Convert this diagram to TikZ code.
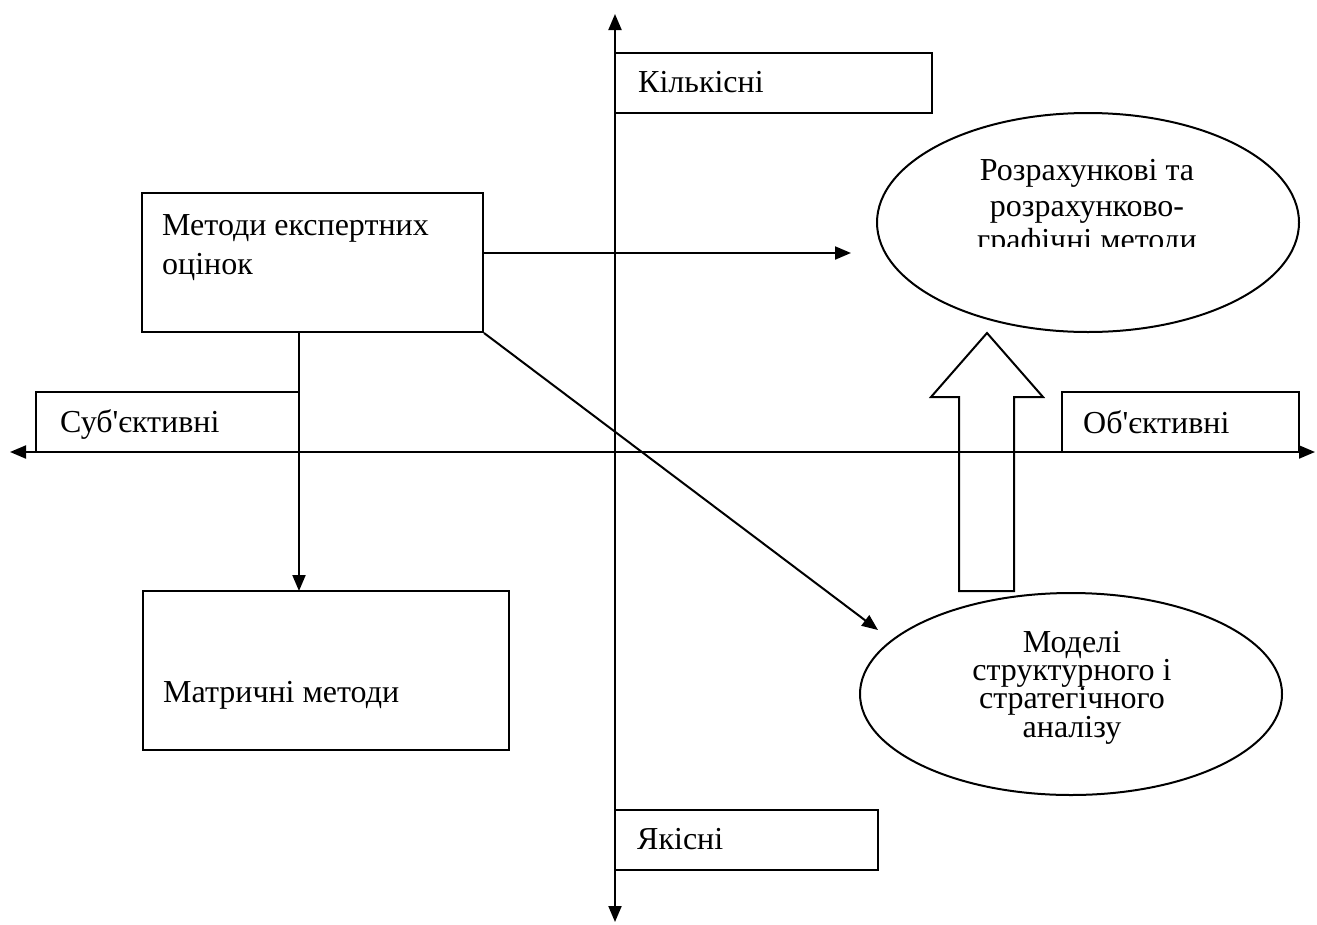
\documentclass[tikz,border=0pt]{standalone}
\usepackage{fontspec}
\setmainfont{Liberation Serif}[Ligatures=TeXOff]
\usetikzlibrary{arrows.meta,shapes.geometric}
\tikzset{
  ln/.style={line width=2pt, black},
  box/.style={draw, ln, rectangle, inner sep=0pt},
  oval/.style={draw, ln, ellipse, inner sep=0pt},
  txt/.style={inner sep=0pt, font=\fontsize{32}{37}\selectfont},
  tip/.style={-{Triangle[length=16pt,width=13pt]}},
  bothtip/.style={{Triangle[length=16pt,width=13pt]}-{Triangle[length=16pt,width=13pt]}},
}
\begin{document}
\begin{tikzpicture}[x=1pt,y=-1pt]
\useasboundingbox (0,0) rectangle (1317,924);
% axes end points
\coordinate (vt) at (615,14);
\coordinate (vb) at (615,922);
\coordinate (hl) at (10,452);
\coordinate (hr) at (1315,452);
% boxes
\node[box, minimum width=317pt, minimum height=60pt] (kil) at (773.5,83) {};
\node[box, minimum width=263pt, minimum height=60pt] (sub) at (167.5,422) {};
\node[box, minimum width=237pt, minimum height=60pt] (obj) at (1180.5,422) {};
\node[box, minimum width=263pt, minimum height=60pt] (yak) at (746.5,840) {};
\node[box, minimum width=341pt, minimum height=139pt] (met) at (312.5,262.5) {};
\node[box, minimum width=366pt, minimum height=159pt] (mat) at (326,670.5) {};
% ellipses
\node[oval, minimum width=422pt, minimum height=219pt] (up) at (1088,222.5) {};
\node[oval, minimum width=422pt, minimum height=202pt] (lo) at (1071,694) {};
% texts
\node[txt, anchor=base west] (tkil) at (638,92) {Кількісні};
\node[txt, anchor=base west] (tsub) at (60,432) {Суб'єктивні};
\node[txt, anchor=base west] (tobj) at (1083,433) {Об'єктивні};
\node[txt, anchor=base west] (tyak) at (637,849) {Якісні};
\node[txt, anchor=base west] (tmet1) at (162,235) {Методи експертних};
\node[txt, anchor=base west] (tmet2) at (162,274) {оцінок};
\node[txt, anchor=base west] (tmat) at (163,702) {Матричні методи};
\node[txt, anchor=base] (tup1) at (1087,180) {Розрахункові та};
\node[txt, anchor=base] (tup2) at (1087,216) {розрахунково-};
\begin{scope}
\clip (877,113) rectangle (1299,246);
\node[txt, anchor=base] (tup3) at (1087,250) {графічні методи};
\end{scope}
\node[txt, anchor=base, align=center, font=\fontsize{32}{28.3}\selectfont] (tlo) at (1072,737) {Моделі\\структурного і\\стратегічного\\аналізу};
% axes
\draw[ln, bothtip] (vb) -- (vt);
\draw[ln, bothtip] (hl) -- (hr);
% connectors
\coordinate (a1e) at (851,253);
\coordinate (a2e) at (299,591);
\coordinate (a3e) at (878,630);
\draw[ln, tip] (met.east |- a1e) -- (a1e);
\draw[ln, tip] (met.south -| a2e) -- (a2e);
\draw[ln, tip] (met.south east) -- (a3e);
% hollow block arrow
\draw[ln, line join=miter] (959,591) -- (959,397) -- (931,397) -- (987,333) -- (1043,397) -- (1014,397) -- (1014,591) -- cycle;
\end{tikzpicture}
\end{document}
